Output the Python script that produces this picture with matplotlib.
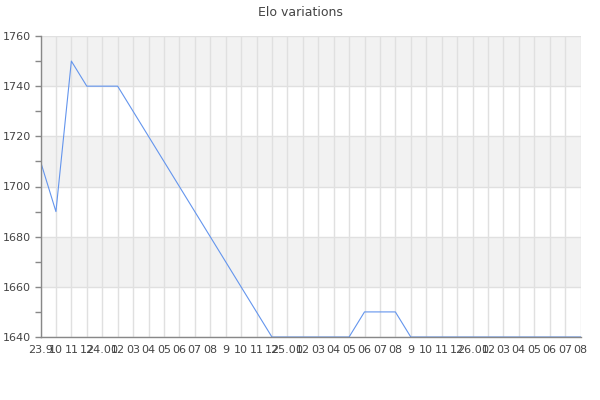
import matplotlib
matplotlib.use("Agg")
import matplotlib.pyplot as plt
import numpy as np

# month labels as shown on the x axis
months = ["23.9", "10", "11", "12",
          "24.01", "02", "03", "04", "05", "06", "07", "08", "9", "10", "11", "12",
          "25.01", "02", "03", "04", "05", "06", "07", "08", "9", "10", "11", "12",
          "26.01", "02", "03", "04", "05", "06", "07", "08"]
elo = [1710, 1690, 1750, 1740, 1740, 1740,
       1730, 1720, 1710, 1700, 1690, 1680, 1670, 1660, 1650, 1640,
       1640, 1640, 1640, 1640, 1640, 1650, 1650, 1650, 1640,
       1640, 1640, 1640, 1640, 1640, 1640, 1640, 1640, 1640, 1640, 1640]

text_col = "#444444"
axis_col = "#888888"
grid_col = "#e0e0e0"

fig = plt.figure(figsize=(6, 4), dpi=100)
ax = fig.add_axes([0.0675, 0.1575, 0.9, 0.7525])

x = np.arange(len(months))
ax.set_xlim(0, len(months) - 1)
ax.set_ylim(1640, 1760)

# alternating bands
for lo in range(1660, 1760, 40):
    ax.axhspan(lo, lo + 20, color="#f2f2f2", zorder=0, lw=0)

ax.set_xticks(x)
ax.set_xticklabels(months)
ax.set_yticks(np.arange(1640, 1761, 20))
ax.set_yticks(np.arange(1650, 1760, 20), minor=True)
ax.grid(True, axis="both", which="major", color=grid_col, linewidth=1, zorder=1)
ax.set_axisbelow(True)

ax.plot(x, elo, color="#6495ED", linewidth=0.8, zorder=2)

for s in ["top", "right"]:
    ax.spines[s].set_visible(False)
for s in ["left", "bottom"]:
    ax.spines[s].set_color(axis_col)
    ax.spines[s].set_linewidth(1)
    ax.spines[s].set_zorder(3)

ax.tick_params(axis="x", length=0, pad=6, labelsize=8, labelcolor=text_col)
ax.tick_params(axis="y", which="both", length=4, color=axis_col, width=1,
               labelsize=8, labelcolor=text_col, pad=3)

fig.text(0.5, 0.985, "Elo variations", ha="center", va="top", fontsize=9, color=text_col)

plt.savefig("out.png", dpi=100)
